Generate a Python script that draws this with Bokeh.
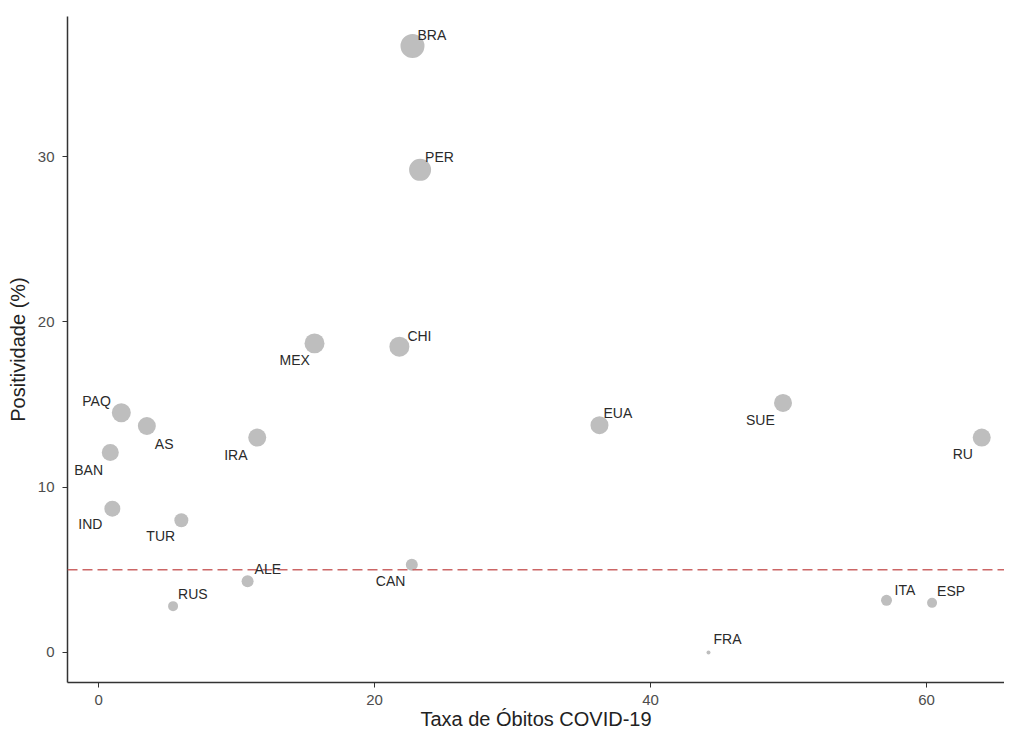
from bokeh.plotting import figure
from bokeh.models import ColumnDataSource, FixedTicker, Span, LabelSet
from bokeh.core.properties import value
from bokeh.embed import file_html
from bokeh.resources import INLINE

# Data
paises = ["BRA", "PER", "CHI", "MEX", "PAQ", "AS", "BAN", "IRA", "IND", "TUR",
          "ALE", "RUS", "CAN", "EUA", "SUE", "RU", "ITA", "ESP", "FRA"]
obitos = [22.75, 23.3, 21.8, 15.65, 1.65, 3.5, 0.85, 11.5, 1.0, 6.0,
          10.8, 5.4, 22.7, 36.3, 49.6, 64.0, 57.1, 60.4, 44.2]
positividade = [36.7, 29.2, 18.5, 18.7, 14.5, 13.7, 12.1, 13.0, 8.7, 8.0,
                4.3, 2.8, 5.3, 13.75, 15.1, 13.0, 3.15, 3.0, 0.0]
tamanho = [24, 22, 20, 20, 19, 18, 17, 18, 16, 14,
           12, 10, 12, 18, 18, 18, 11, 10, 4]
x_ticks = [0, 20, 40, 60]
y_ticks = [0, 10, 20, 30]
limiar = 5

# label placement (pixel offsets, style only)
dx = [5, 5, 8, -35, -39, 8, -36, -33, -34, -35, 7, 5, -36, 4, -37, -29, 8, 5, 5]
dy = [3, 5, 3, -25, 4, -26, -26, -25, -23, -24, 4, 4, -24, 4, -25, -24, 2, 4, 5]

src = ColumnDataSource(dict(x=obitos, y=positividade, s=tamanho,
                            lab=paises, dx=dx, dy=dy))

p = figure(width=1004, height=734, output_backend="svg", toolbar_location=None,
           x_range=(-2.25, 65.65), y_range=(-1.82, 38.48),
           min_border_left=67, min_border_right=0, min_border_top=16,
           min_border_bottom=52)
p.outline_line_color = None
p.grid.visible = False
p.background_fill_color = "white"

p.scatter("x", "y", size="s", source=src, fill_color="#bebebe",
          line_color=None)

span = Span(location=limiar, dimension="width", line_color="#cc6666",
            line_dash="10 5", line_width=1.5)
p.add_layout(span)

labels = LabelSet(x="x", y="y", text="lab", x_offset="dx", y_offset="dy",
                  source=src, text_font=value("Liberation Sans"),
                  text_font_size="14px", text_color="#2a2a2a")
p.add_layout(labels)

p.xaxis.ticker = FixedTicker(ticks=x_ticks)
p.yaxis.ticker = FixedTicker(ticks=y_ticks)
p.xaxis.axis_label = "Taxa de Óbitos COVID-19"
p.yaxis.axis_label = "Positividade (%)"
for ax in (p.xaxis, p.yaxis):
    ax.axis_line_color = "#333333"
    ax.axis_line_width = 1.5
    ax.major_tick_line_color = "#333333"
    ax.major_tick_out = 5
    ax.major_tick_in = 0
    ax.minor_tick_line_color = None
    ax.major_label_text_font = "Liberation Sans"
    ax.major_label_text_font_size = "15px"
    ax.major_label_text_color = "#4d4d4d"
    ax.axis_label_text_font = "Liberation Sans"
    ax.axis_label_text_font_size = "20px"
    ax.axis_label_text_font_style = "normal"
    ax.axis_label_text_color = "#222222"
p.xaxis.axis_label_standoff = 0
p.yaxis.axis_label_standoff = 6
p.xaxis.major_label_standoff = 7
p.yaxis.major_label_standoff = 8

open("out.html", "w").write(file_html(p, INLINE))
